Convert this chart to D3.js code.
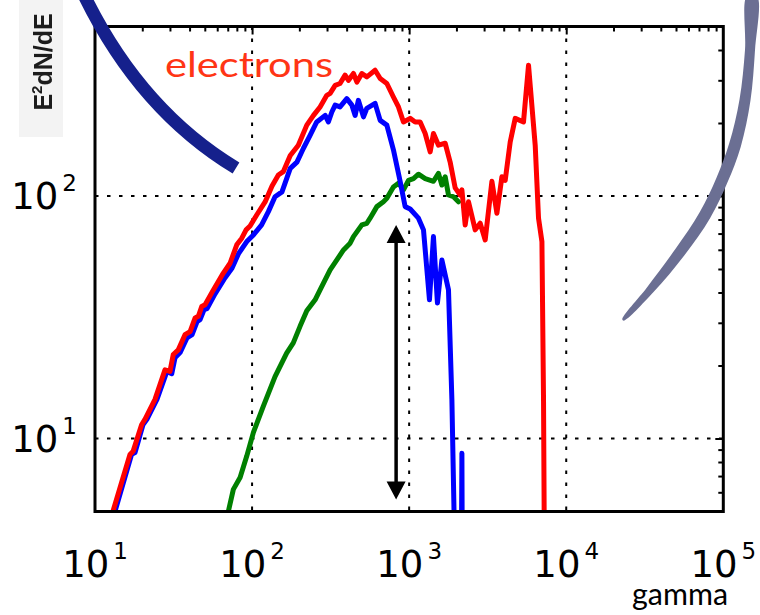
<!DOCTYPE html>
<html>
<head>
<meta charset="utf-8">
<script src="https://cdn.jsdelivr.net/npm/d3@7"></script>
<style>
  body { margin: 0; background: #fff; }
  svg { display: block; }
</style>
</head>
<body>
<div id="chart"></div>
<script>
// electron spectra: total (red), and two components (blue, green)

var redGamma = [12.5, 13.0, 16.7, 17.5, 19.8, 20.8, 24.1, 27.9, 30.0, 31.5,
  33.9, 37.4, 40.3, 43.4, 45.5, 47.8, 50.2, 56.7, 65.6, 72.4,
  79.9, 86.0, 91.6, 97.1, 107, 121, 134, 147, 158, 175,
  197, 223, 246, 271, 299, 314, 338, 363, 391, 411,
  442, 465, 500, 538, 607, 654, 721, 794, 855, 920,
  1015, 1092, 1175, 1265, 1361, 1428, 1537, 1696, 1824, 1963,
  2113, 2167, 2274, 2387, 2633, 2833, 3049, 3364, 3620, 3894,
  4088, 4399, 4735, 5346, 5754, 6346, 6662, 7003, 7169, 7250];
var redValue = [4.6, 5.0, 8.6, 8.87, 11.4, 12.0, 14.5, 19.2, 18.9, 22.2,
  23.2, 26.8, 27.6, 31.4, 31.9, 35.0, 35.6, 41.0, 48.1, 52.8,
  62.9, 67.0, 72.5, 75.2, 83.5, 94.5, 110, 122, 126, 147,
  162, 196, 215, 233, 260, 265, 286, 291, 315, 300,
  320, 295, 320, 310, 330, 305, 291, 256, 233, 202,
  209, 202, 202, 181, 152, 181, 162, 165, 138, 108,
  101, 106, 76, 94.7, 72.5, 77.2, 65.9, 115, 84.9, 120,
  116, 167, 209, 202, 346, 162, 81, 64.9, 14.5, 4.0];

var blueGamma = [12.9, 13.4, 17.1, 18.0, 20.2, 21.4, 24.8, 28.7, 30.8, 32.3,
  34.8, 38.5, 41.5, 44.6, 46.6, 49.5, 51.7, 58.1, 67.3, 74.6,
  81.8, 92.5, 102, 115, 127, 140, 155, 166, 175, 193,
  212, 234, 258, 292, 306, 322, 338, 363, 401, 432,
  453, 475, 512, 538, 607, 654, 721, 794, 876, 943,
  1015, 1146, 1234, 1347, 1428, 1514, 1616, 1780, 1871, 1960,
  2150, 2167, 2180];
var blueValue = [4.6, 5.0, 8.6, 8.76, 11.4, 12.0, 14.5, 18.9, 18.5, 21.5,
  22.6, 26.0, 26.8, 30.3, 30.9, 34.0, 34.3, 39.5, 46.0, 50.5,
  57.7, 64.9, 69.1, 76.0, 86.2, 99.3, 104, 118, 130, 138,
  157, 178, 202, 215, 202, 222, 237, 233, 252, 237,
  215, 248, 212, 230, 241, 205, 196, 155, 115, 90.4,
  88.4, 81, 72.5, 37.3, 68.0, 36.2, 54.5, 41.0, 14.5, 3.0,
  3.0, 8.7, 3.0];

var greenGamma = [69.0, 70.6, 76.0, 83.9, 92.5, 102, 118, 140, 166, 183,
  202, 223, 252, 271, 314, 382, 421, 442, 500, 538,
  564, 623, 686, 721, 794, 855, 920, 990, 1065, 1146,
  1265, 1428, 1537, 1616, 1696, 1780, 1915, 2061];
var greenValue = [4.6, 5.0, 6.17, 6.91, 8.46, 10.6, 13.6, 18.0, 22.5, 24.8,
  29.0, 33.6, 37.3, 41.0, 49.6, 59.9, 63.9, 68.0, 76.0, 77.2,
  81, 90.4, 94.7, 97.8, 109, 113, 106, 116, 118, 123,
  118, 115, 124, 111, 120, 101, 99.3, 94.7];

var xDecades = [1, 2, 3, 4, 5];
var yDecades = [1, 2];
var xGrid = [1e2, 1e3, 1e4];
var yGrid = [10, 100];

// double arrow
var arrowGamma = 826, arrowTop = 76, arrowBottom = 5.6;

var W = 760, H = 615;
var frame = {left: 95, right: 723.3, top: 26.5, bottom: 511.5};

var x = d3.scaleLog().domain([10, 1e5]).range([frame.left, frame.right]);
var y = d3.scaleLog().domain([5, 500]).range([frame.bottom, frame.top]);

var svg = d3.select("#chart").append("svg")
    .attr("width", W).attr("height", H);

var defs = svg.append("defs");
defs.append("clipPath").attr("id", "plotclip")
  .append("rect")
    .attr("x", frame.left).attr("y", frame.top)
    .attr("width", frame.right - frame.left)
    .attr("height", frame.bottom - frame.top);
defs.append("filter").attr("id", "soft")
  .append("feGaussianBlur").attr("stdDeviation", 0.5);

// pasted y label
svg.append("rect").attr("x", 19).attr("y", 0).attr("width", 44).attr("height", 137)
    .attr("fill", "#f3f3f3");
var yl = svg.append("text")
    .attr("transform", "translate(52,62) rotate(-90)")
    .attr("text-anchor", "middle")
    .attr("filter", "url(#soft)")
    .style("font", "bold 25px 'Liberation Sans', Arial, sans-serif")
    .attr("fill", "#1c1c1c");
yl.append("tspan").text("E");
yl.append("tspan").attr("dy", -10).style("font-size", "15px").text("2");
yl.append("tspan").attr("dy", 10).text("dN/dE");

// grid
var grid = svg.append("g")
    .attr("stroke", "#000").attr("stroke-width", 2)
    .attr("stroke-dasharray", "3.5,8.5");
grid.selectAll(".gx").data(xGrid).enter().append("line")
    .attr("x1", d => x(d)).attr("x2", d => x(d))
    .attr("y1", frame.top).attr("y2", frame.bottom);
grid.selectAll(".gy").data(yGrid).enter().append("line")
    .attr("y1", d => y(d)).attr("y2", d => y(d))
    .attr("x1", frame.left).attr("x2", frame.right);

// curves
var series = [
  {g: greenGamma, v: greenValue, color: "#008000"},
  {g: blueGamma, v: blueValue, color: "#0000ff"},
  {g: redGamma, v: redValue, color: "#ff0000"}
];
var line = d3.line().x(d => x(d[0])).y(d => y(d[1]));
var curves = svg.append("g").attr("clip-path", "url(#plotclip)");
series.forEach(function(s){
  curves.append("path")
    .datum(d3.zip(s.g, s.v))
    .attr("d", line)
    .attr("fill", "none")
    .attr("stroke", s.color)
    .attr("stroke-width", 5)
    .attr("stroke-linejoin", "round")
    .attr("stroke-linecap", "round");
});

// ticks inside top and right edges
var minorX = [], minorY = [];
[10, 100, 1000, 10000].forEach(function(d){
  for (var k = 2; k <= 9; k++) minorX.push(k * d);
});
[1, 10, 100].forEach(function(d){
  for (var k = 2; k <= 9; k++) if (k * d > 5 && k * d < 500) minorY.push(k * d);
});
function inside(g){
  g.select(".domain").remove();
  g.selectAll(".tick line").attr("stroke", "#000").attr("stroke-width", 2);
}
svg.append("g").attr("transform", "translate(0," + frame.top + ")")
  .call(d3.axisTop(x).tickValues(minorX).tickSize(-5).tickFormat(""))
  .call(inside);
svg.append("g").attr("transform", "translate(0," + frame.top + ")")
  .call(d3.axisTop(x).tickValues(xGrid).tickSize(-8).tickFormat(""))
  .call(inside);
svg.append("g").attr("transform", "translate(" + frame.right + ",0)")
  .call(d3.axisRight(y).tickValues(minorY).tickSize(-5).tickFormat(""))
  .call(inside);
svg.append("g").attr("transform", "translate(" + frame.right + ",0)")
  .call(d3.axisRight(y).tickValues(yGrid).tickSize(-8).tickFormat(""))
  .call(inside);

// frame
svg.append("rect")
    .attr("x", frame.left).attr("y", frame.top)
    .attr("width", frame.right - frame.left)
    .attr("height", frame.bottom - frame.top)
    .attr("fill", "none").attr("stroke", "#000").attr("stroke-width", 3);

// tick labels
function powLabel(t, e){
  t.append("tspan").text("10");
  t.append("tspan").attr("dx", 4).attr("dy", -18).style("font-size", "23px").text(e);
}
var labelFont = "37px 'DejaVu Sans', sans-serif";
xDecades.forEach(function(e){
  var t = svg.append("text")
      .attr("x", x(Math.pow(10, e))).attr("y", 577)
      .attr("text-anchor", "middle")
      .style("font", labelFont).attr("fill", "#000");
  powLabel(t, e);
});
yDecades.forEach(function(e){
  var t = svg.append("text")
      .attr("x", 77).attr("y", y(Math.pow(10, e)) + 13)
      .attr("text-anchor", "end")
      .style("font", labelFont).attr("fill", "#000");
  powLabel(t, e);
});

// arrow
var ax = x(arrowGamma), ay1 = y(arrowTop), ay2 = y(arrowBottom);
svg.append("line")
    .attr("x1", ax).attr("x2", ax).attr("y1", ay1 + 14).attr("y2", ay2 - 14)
    .attr("stroke", "#000").attr("stroke-width", 3.5);
svg.append("path")
    .attr("d", "M" + ax + "," + ay1 + "l-9.5,18h19z" + "M" + ax + "," + ay2 + "l-9.5,-18h19z")
    .attr("fill", "#000");

// decorations
svg.append("path")
    .attr("d", "M84,-5Q140,110 236,168")
    .attr("fill", "none").attr("stroke", "#15208c").attr("stroke-width", 13);

var arcPts = [[752, -4], [750, 50], [745, 100], [735, 145], [722, 180], [705, 215], [680, 252], [650, 290], [623, 320]];
var arcW = [10, 10, 11, 12, 12, 12, 11, 8, 2];
var leftEdge = [], rightEdge = [];
arcPts.forEach(function(p, i){
  var a = arcPts[Math.max(0, i - 1)], b = arcPts[Math.min(arcPts.length - 1, i + 1)];
  var dx = b[0] - a[0], dy = b[1] - a[1], len = Math.hypot(dx, dy);
  var nx = -dy / len, ny = dx / len, h = arcW[i] / 2;
  leftEdge.push([p[0] + nx * h, p[1] + ny * h]);
  rightEdge.push([p[0] - nx * h, p[1] - ny * h]);
});
svg.append("path")
    .attr("d", d3.line().curve(d3.curveCatmullRomClosed)(leftEdge.concat(rightEdge.reverse())))
    .attr("fill", "#6b6f93");

// annotations
svg.append("text")
    .attr("x", 165).attr("y", 77)
    .attr("textLength", 168).attr("lengthAdjust", "spacingAndGlyphs")
    .style("font", "34px Lato, 'Open Sans', sans-serif")
    .attr("fill", "#ff3515")
    .text("electrons");
svg.append("text")
    .attr("x", 632).attr("y", 605)
    .attr("textLength", 96).attr("lengthAdjust", "spacingAndGlyphs")
    .style("font", "30px Lato, 'Open Sans', sans-serif")
    .attr("fill", "#000")
    .text("gamma");
</script>
</body>
</html>
